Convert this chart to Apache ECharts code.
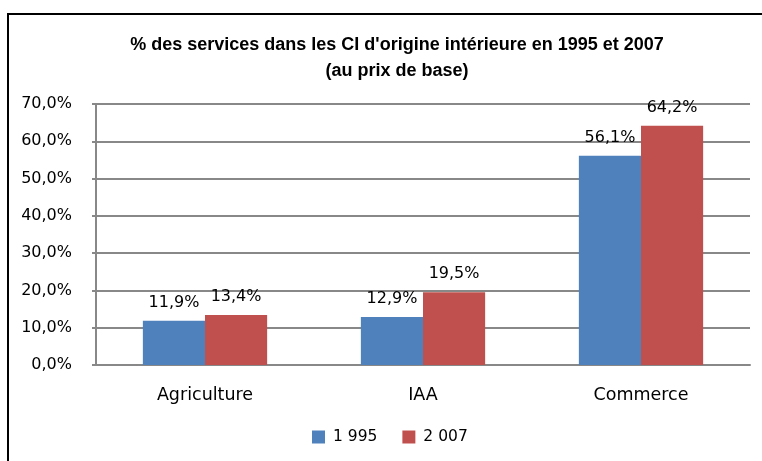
<!DOCTYPE html>
<html>
<head>
<meta charset="utf-8">
<script src="https://cdn.jsdelivr.net/npm/echarts@6/dist/echarts.min.js"></script>
<style>
  html, body { margin: 0; padding: 0; background: #fff; }
  #wrap { position: relative; width: 762px; height: 461px; overflow: hidden; }
  #frame { position: absolute; left: 7px; top: 13px; width: 760px; height: 470px; border: 2px solid #000; box-sizing: border-box; }
  #chart { position: absolute; left: 0; top: 0; width: 762px; height: 461px; }
</style>
</head>
<body>
<div id="wrap">
  <div id="frame"></div>
  <div id="chart"></div>
</div>
<script>
// données
const categories = ['Agriculture', 'IAA', 'Commerce']
const seriesNames = ['1 995', '2 007']
const values1995 = [11.9, 12.9, 56.1]
const values2007 = [13.4, 19.5, 64.2]
const colors = ['#4F81BD', '#C0504D']

const fmt = v => v.toFixed(1).replace('.', ',') + '%'

const chart = echarts.init(document.getElementById('chart'))
chart.setOption({
  animation: false,
  textStyle: { fontFamily: 'DejaVu Sans', color: '#000' },
  title: {
    text: "% des services dans les CI d'origine intérieure en 1995 et 2007\n(au prix de base)",
    left: 392,
    textAlign: 'center',
    top: 27,
    textStyle: {
      fontFamily: 'Liberation Sans',
      fontWeight: 'bold',
      fontSize: 18,
      lineHeight: 26,
      color: '#000'
    }
  },
  legend: {
    bottom: 11,
    left: 307,
    itemWidth: 13,
    itemHeight: 13,
    itemGap: 25,
    icon: 'rect',
    textStyle: { fontSize: 15.5, color: '#000', padding: [0, 0, 0, 3] },
    data: seriesNames
  },
  grid: { left: 96, right: 12, top: 104, bottom: 96 },
  xAxis: {
    type: 'category',
    data: categories,
    axisLine: { lineStyle: { color: '#888', width: 2 } },
    axisTick: { show: false },
    axisLabel: { fontSize: 17.5, color: '#000', margin: 21 }
  },
  yAxis: {
    type: 'value',
    min: 0,
    max: 70,
    interval: 10,
    axisLine: { show: true, lineStyle: { color: '#888', width: 2 } },
    axisTick: { show: true, length: 4, lineStyle: { color: '#888', width: 2 } },
    splitLine: { lineStyle: { color: '#888', width: 2 } },
    axisLabel: { fontSize: 16, color: '#000', margin: 24, formatter: v => fmt(v) }
  },
  series: [
    {
      name: seriesNames[0],
      type: 'bar',
      data: values1995,
      barGap: '0%',
      barCategoryGap: '43%',
      itemStyle: { color: colors[0] },
      label: { show: true, position: 'top', fontSize: 16, color: '#000', distance: 10, formatter: p => fmt(p.value) }
    },
    {
      name: seriesNames[1],
      type: 'bar',
      data: values2007,
      barGap: '0%',
      barCategoryGap: '43%',
      itemStyle: { color: colors[1] },
      label: { show: true, position: 'top', fontSize: 16, color: '#000', distance: 10, formatter: p => fmt(p.value) }
    }
  ]
})
</script>
</body>
</html>
